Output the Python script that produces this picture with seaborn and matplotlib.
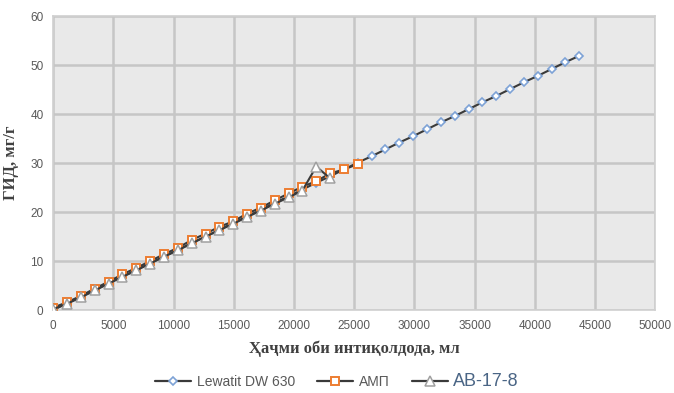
import matplotlib
matplotlib.use("Agg")
import matplotlib.pyplot as plt
import seaborn as sns
import pandas as pd
from matplotlib.patches import Rectangle
from matplotlib.lines import Line2D

# data
lewatit_x = [0, 1150, 2300, 3450, 4600, 5750, 6900, 8050, 9200, 10350, 11500, 12650, 13800,
             14950, 16100, 17250, 18400, 19550, 20700, 21850, 23000, 24150, 25300, 26450,
             27600, 28750, 29900, 31050, 32200, 33350, 34500, 35650, 36800, 37950, 39100,
             40250, 41400, 42550, 43700]
lewatit_y = [0.0, 1.4, 2.7, 4.1, 5.5, 6.8, 8.2, 9.6, 10.9, 12.3, 13.7, 15.0, 16.4, 17.8, 19.1,
             20.5, 21.9, 23.2, 24.6, 26.0, 27.3, 28.7, 30.1, 31.4, 32.8, 34.2, 35.5, 36.9,
             38.3, 39.6, 41.0, 42.4, 43.7, 45.1, 46.5, 47.8, 49.2, 50.6, 51.9]

amp_x = [0, 1150, 2300, 3450, 4600, 5750, 6900, 8050, 9200, 10350, 11500, 12650, 13800,
         14950, 16100, 17250, 18400, 19550, 20700, 21850, 23000, 24150, 25300]
amp_y = [0.5, 1.6, 2.9, 4.4, 5.8, 7.3, 8.6, 10.0, 11.4, 12.7, 14.3, 15.6, 17.0, 18.1, 19.7,
         20.9, 22.4, 23.8, 25.2, 26.3, 27.9, 28.7, 29.8]

ab_x = [0, 1150, 2300, 3450, 4600, 5750, 6900, 8050, 9200, 10350, 11500, 12650, 13800,
        14950, 16100, 17250, 18400, 19550, 20700, 21850, 23000]
ab_y = [0.2, 1.3, 2.6, 4.0, 5.4, 6.8, 8.1, 9.5, 10.9, 12.2, 13.6, 15.0, 16.3, 17.6, 19.0,
        20.3, 21.7, 23.0, 24.4, 29.3, 26.9]

labels = ["Lewatit DW 630", "АМП", "АВ-17-8"]
x_ticks = list(range(0, 50001, 5000))
y_ticks = list(range(0, 61, 10))

sns.set_theme(style="white")
plt.rcParams['font.family'] = ['Liberation Sans', 'DejaVu Sans']
plt.rcParams['hatch.linewidth'] = 0.7

fig = plt.figure(figsize=(6.74, 3.93), dpi=100)
ax = fig.add_axes([0.079, 0.211, 0.893, 0.748])

# fine diagonal pattern fill like the Excel plot area
ax.add_patch(Rectangle((0, 0), 1, 1, transform=ax.transAxes, facecolor='#d2d2d2',
                       edgecolor='#e9e9e9', hatch='\\' * 28, lw=0, zorder=0))

line_col = '#3a3a3a'
styles = [
    dict(marker='D', ms=4.5, mec='#7da2d6', mfc='white', mew=1.2),
    dict(marker='s', ms=6, mec='#ed7d31', mfc='white', mew=1.4),
    dict(marker='^', ms=6.5, mec='#a0a0a0', mfc='white', mew=1.1),
]
series = [(lewatit_x, lewatit_y), (amp_x, amp_y), (ab_x, ab_y)]
for (xs, ys), st in zip(series, styles):
    df = pd.DataFrame({'x': xs, 'y': ys})
    sns.lineplot(data=df, x='x', y='y', ax=ax, color=line_col, lw=1.5, sort=False,
                 marker=st['marker'], markersize=st['ms'], markeredgecolor=st['mec'],
                 markerfacecolor=st['mfc'], markeredgewidth=st['mew'], zorder=3)

ax.set_xlim(0, 50000)
ax.set_ylim(0, 60)
ax.set_xticks(x_ticks)
ax.set_yticks(y_ticks)
ax.grid(True, color='#c6c6c6', lw=1.8)
ax.set_axisbelow(True)
for s in ax.spines.values():
    s.set_color('#d0d0d0')
    s.set_linewidth(1.2)
ax.tick_params(axis='both', labelsize=8.5, colors='#595959', length=0, pad=7)

serif = ['Liberation Serif', 'DejaVu Serif']
ax.set_xlabel("Ҳаҷми оби интиқолдода, мл", family=serif, fontweight='bold', fontsize=12,
              color='#404040', labelpad=6)
ax.set_ylabel("ГИД, мг/г", family=serif, fontweight='bold', fontsize=12,
              color='#404040', labelpad=8)

handles = [Line2D([], [], color=line_col, lw=1.6, marker=st['marker'],
                  markersize=st['ms'], markeredgecolor=st['mec'],
                  markerfacecolor=st['mfc'], markeredgewidth=st['mew'])
           for st in styles]
leg = fig.legend(handles, labels, loc='center', bbox_to_anchor=(0.5, 0.03), ncol=3,
                 frameon=False, fontsize=10, handlelength=2.6, columnspacing=1.6,
                 handletextpad=0.4)
texts = leg.get_texts()
for t in texts:
    t.set_color('#595959')
texts[2].set_fontsize(13)
texts[2].set_color('#4a6585')

fig.savefig('out.png', dpi=100)
